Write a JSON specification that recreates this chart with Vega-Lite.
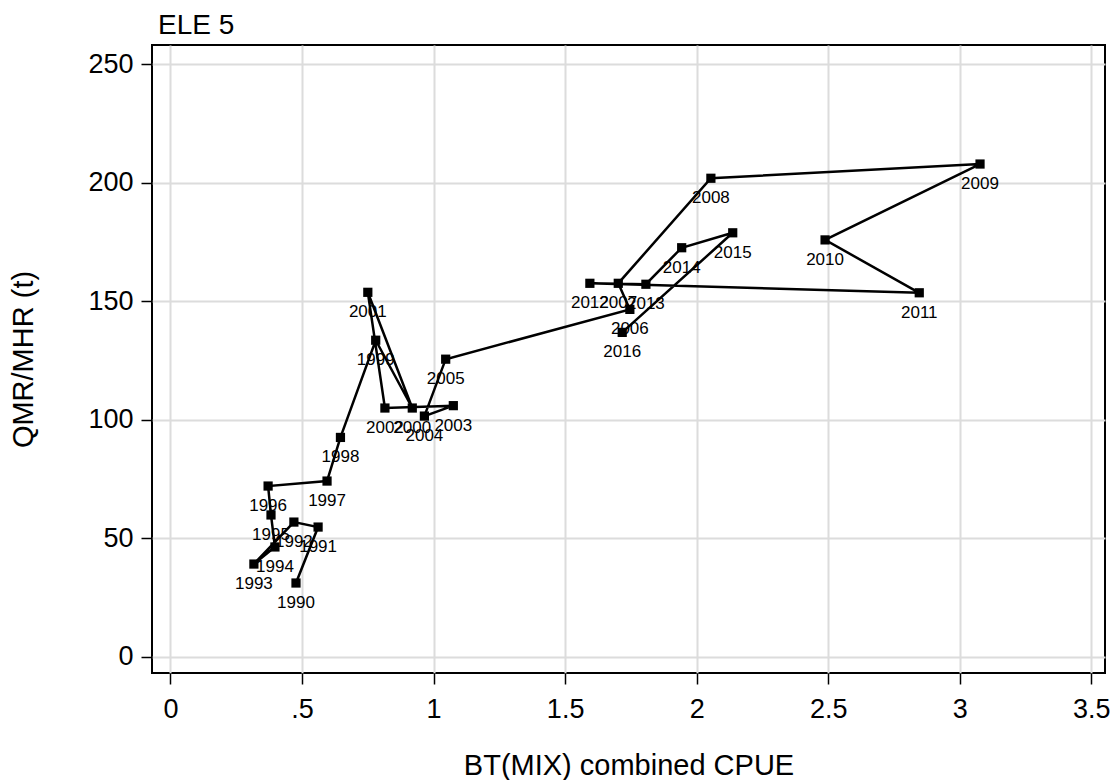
{
  "$schema": "https://vega.github.io/schema/vega-lite/v6.json",
  "width": 953,
  "height": 628,
  "autosize": {"type": "none"},
  "padding": {"left": 152, "top": 45, "right": 8, "bottom": 107},
  "background": "white",
  "title": {"text": "ELE 5", "anchor": "start", "frame": "group", "dx": 6, "offset": 12, "dy": 29, "baseline": "alphabetic", "fontSize": 28, "font": "Liberation Sans", "fontWeight": "normal", "color": "black"},
  "config": {
    "view": {"stroke": "black", "strokeWidth": 2},
    "axis": {
      "domain": false,
      "grid": true,
      "gridColor": "#dcdcdc",
      "gridWidth": 2,
      "tickColor": "black",
      "tickWidth": 1.5,
      "tickSize": 11,
      "labelColor": "black",
      "labelFont": "Liberation Sans",
      "labelFontSize": 27,
      "titleFont": "Liberation Sans",
      "titleFontSize": 29,
      "titleFontWeight": "normal",
      "titleColor": "black"
    }
  },
  "data": {"values": [
    {"year": 1990, "cpue": 0.477, "qmr": 31.2},
    {"year": 1991, "cpue": 0.561, "qmr": 54.8},
    {"year": 1992, "cpue": 0.469, "qmr": 56.9},
    {"year": 1993, "cpue": 0.317, "qmr": 39.2},
    {"year": 1994, "cpue": 0.397, "qmr": 46.4},
    {"year": 1995, "cpue": 0.382, "qmr": 59.9},
    {"year": 1996, "cpue": 0.371, "qmr": 72.1},
    {"year": 1997, "cpue": 0.595, "qmr": 74.2},
    {"year": 1998, "cpue": 0.646, "qmr": 92.6},
    {"year": 1999, "cpue": 0.780, "qmr": 133.6},
    {"year": 2000, "cpue": 0.919, "qmr": 105.0},
    {"year": 2001, "cpue": 0.750, "qmr": 153.8},
    {"year": 2002, "cpue": 0.815, "qmr": 105.0},
    {"year": 2003, "cpue": 1.075, "qmr": 106.0},
    {"year": 2004, "cpue": 0.965, "qmr": 101.6},
    {"year": 2005, "cpue": 1.046, "qmr": 125.6},
    {"year": 2006, "cpue": 1.746, "qmr": 146.6},
    {"year": 2007, "cpue": 1.702, "qmr": 157.6},
    {"year": 2008, "cpue": 2.054, "qmr": 201.9},
    {"year": 2009, "cpue": 3.077, "qmr": 207.9},
    {"year": 2010, "cpue": 2.488, "qmr": 175.9},
    {"year": 2011, "cpue": 2.846, "qmr": 153.6},
    {"year": 2012, "cpue": 1.594, "qmr": 157.6},
    {"year": 2013, "cpue": 1.807, "qmr": 157.2},
    {"year": 2014, "cpue": 1.943, "qmr": 172.6},
    {"year": 2015, "cpue": 2.137, "qmr": 178.9},
    {"year": 2016, "cpue": 1.717, "qmr": 136.9}
  ]},
  "encoding": {
    "x": {
      "field": "cpue", "type": "quantitative",
      "scale": {"domain": [-0.0703, 3.552], "nice": false, "zero": false},
      "axis": {"values": [0, 0.5, 1, 1.5, 2, 2.5, 3, 3.5], "format": "~g", "labelExpr": "datum.value == 0.5 ? '.5' : datum.label", "labelPadding": 12, "title": "BT(MIX) combined CPUE", "titlePadding": 29}
    },
    "y": {
      "field": "qmr", "type": "quantitative",
      "scale": {"domain": [-6.75, 258.1], "nice": false, "zero": false},
      "axis": {"values": [0, 50, 100, 150, 200, 250], "labelPadding": 8, "title": "QMR/MHR (t)", "titlePadding": 49}
    }
  },
  "layer": [
    {"mark": {"type": "line", "color": "black", "strokeWidth": 2.5}, "encoding": {"order": {"field": "year", "type": "quantitative"}}},
    {"mark": {"type": "point", "shape": "square", "filled": true, "color": "black", "opacity": 1, "size": 85}},
    {"mark": {"type": "text", "font": "Liberation Sans", "fontSize": 17, "color": "black", "align": "center", "baseline": "middle", "dy": 20}, "encoding": {"text": {"field": "year", "type": "nominal"}}}
  ]
}
